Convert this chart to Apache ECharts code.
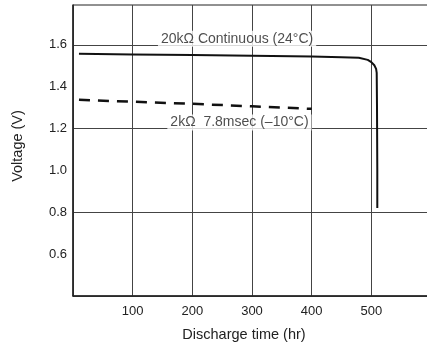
<!DOCTYPE html>
<html><head><meta charset="utf-8">
<script src="https://cdn.jsdelivr.net/npm/echarts@6/dist/echarts.min.js"></script>
<style>html,body{margin:0;padding:0;background:#fff}#c{width:427px;height:345px}</style>
</head><body><div id="c"></div>
<script>
// Discharge curves
const continuousTime = [10, 100, 200, 300, 400, 450, 479, 494, 500, 505, 508, 509, 509.5, 510, 510];
const continuousVolt = [1.557, 1.554, 1.551, 1.548, 1.544, 1.541, 1.538, 1.528, 1.517, 1.502, 1.485, 1.466, 1.3, 1.0, 0.82];
const pulseTime = [10, 100, 200, 300, 400];
const pulseVolt = [1.337, 1.328, 1.318, 1.306, 1.294];
const xTicks = [100, 200, 300, 400, 500];
const yTicks = [0.6, 0.8, 1.0, 1.2, 1.4, 1.6];
const annotations = [
  {text: '20kΩ Continuous (24°C)', x: 275, y: 1.629},
  {text: '2kΩ  7.8msec (–10°C)', x: 279, y: 1.229}
];
const FONT = '"Liberation Sans", Arial, Helvetica, sans-serif';
const chart = echarts.init(document.getElementById('c'), null, {renderer: 'canvas'});
chart.setOption({
  animation: false,
  backgroundColor: '#fff',
  grid: {left: 73, top: 5, right: -4, bottom: 49, show: true, borderColor: '#222', borderWidth: 1,
    containLabel: false, outerBoundsMode: 'none'},
  xAxis: {
    type: 'value', min: 0, max: 600, interval: 100,
    name: 'Discharge time (hr)', nameLocation: 'middle', nameGap: 31,
    nameTextStyle: {fontFamily: FONT, fontSize: 14.5, color: '#222', padding: [0, 16, 0, 0]},
    axisLine: {show: true, lineStyle: {color: '#222', width: 1.5}},
    axisTick: {show: false},
    axisLabel: {fontFamily: FONT, fontSize: 13, color: '#222', margin: 9,
      formatter: v => xTicks.includes(Math.round(v)) ? String(Math.round(v)) : ''},
    splitLine: {show: true, lineStyle: {color: '#444', width: 1}}
  },
  yAxis: {
    type: 'value', min: 0.4, max: 1.79, interval: 0.2,
    name: 'Voltage (V)', nameLocation: 'middle', nameGap: 48,
    nameTextStyle: {fontFamily: FONT, fontSize: 14.5, color: '#222', padding: [0, 0, 0, 9]},
    axisLine: {show: true, lineStyle: {color: '#222', width: 1.5}},
    axisTick: {show: false},
    axisLabel: {fontFamily: FONT, fontSize: 13, color: '#222', margin: 6,
      formatter: v => yTicks.some(t => Math.abs(t - v) < 1e-6) ? v.toFixed(1) : ''},
    splitLine: {show: true, lineStyle: {color: ['#444', 'transparent'], width: 1}}
  },
  series: [
    {type: 'line', data: continuousTime.map((t, i) => [t, continuousVolt[i]]), symbol: 'none',
      lineStyle: {color: '#111', width: 2}},
    {type: 'line', data: pulseTime.map((t, i) => [t, pulseVolt[i]]), symbol: 'none',
      lineStyle: {color: '#111', width: 2.5, type: [11, 8]}},
    {type: 'scatter', symbolSize: 0, z: 5,
      data: annotations.map(a => ({value: [a.x, a.y], label: {formatter: a.text}})),
      label: {show: true, position: 'inside', fontFamily: FONT, fontSize: 14, color: '#222',
        backgroundColor: '#fff', padding: [1, 3, 1, 3]}}
  ]
});
</script></body></html>
